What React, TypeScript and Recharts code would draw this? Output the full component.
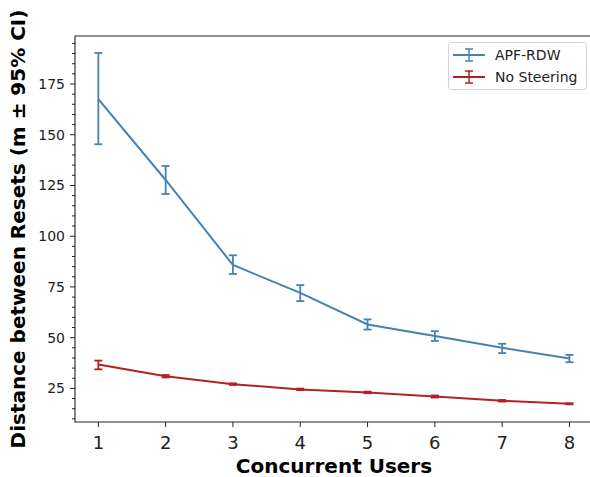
import React from 'react';
import { LineChart, Line, XAxis, YAxis, ErrorBar, ReferenceArea, Label } from 'recharts';

const users = [1, 2, 3, 4, 5, 6, 7, 8];
const apfMean = [167.5, 127.7, 85.8, 72.1, 56.5, 50.8, 45.0, 39.7];
const apfLow = [145.3, 120.8, 81.4, 68.0, 54.0, 48.4, 42.4, 37.9];
const apfHigh = [190.3, 134.6, 90.6, 75.9, 59.0, 53.2, 47.0, 41.5];
const noSteerMean = [36.8, 31.0, 27.1, 24.5, 23.0, 21.0, 18.9, 17.4];
const noSteerLow = [34.4, 30.4, 26.7, 24.1, 22.6, 20.5, 18.5, 17.1];
const noSteerHigh = [38.7, 31.6, 27.5, 24.9, 23.4, 21.5, 19.3, 17.7];

const yMajorTicks = [25, 50, 75, 100, 125, 150, 175];
const yAllTicks = [10, 15, 20, 25, 30, 35, 40, 45, 50, 55, 60, 65, 70, 75, 80, 85, 90, 95, 100, 105, 110, 115, 120, 125, 130, 135, 140, 145, 150, 155, 160, 165, 170, 175, 180, 185, 190, 195];

const series = [
  { name: 'APF-RDW', color: '#4682b4' },
  { name: 'No Steering', color: '#b22222' },
];

const data = users.map((u, i) => ({
  users: u,
  apf: apfMean[i],
  apfErr: [apfMean[i] - apfLow[i], apfHigh[i] - apfMean[i]],
  none: noSteerMean[i],
  noneErr: [noSteerMean[i] - noSteerLow[i], noSteerHigh[i] - noSteerMean[i]],
}));

const FONT = '"DejaVu Sans", sans-serif';
const INK = '#222';

const XTick = (props: any) => {
  const { x, y, payload } = props;
  return (
    <g>
      <line x1={x} x2={x} y1={y} y2={y + 5} stroke={INK} strokeWidth={1} />
      <text x={x} y={y + 27} textAnchor="middle" fontSize={18} fontFamily={FONT} fill={INK}>
        {payload.value}
      </text>
    </g>
  );
};

const YTick = (props: any) => {
  const { x, y, payload } = props;
  const major = yMajorTicks.includes(payload.value);
  return (
    <g>
      <line x1={x - (major ? 5 : 3)} x2={x} y1={y} y2={y} stroke={INK} strokeWidth={1} />
      {major && (
        <text x={x - 10} y={y + 5} textAnchor="end" fontSize={14} fontFamily={FONT} fill={INK}>
          {payload.value}
        </text>
      )}
    </g>
  );
};

const YTitle = (props: any) => {
  const { viewBox } = props;
  const cx = viewBox.x + 24.5;
  const cy = viewBox.y + viewBox.height / 2;
  return (
    <text
      transform={`translate(${cx},${cy}) rotate(-90)`}
      textAnchor="middle"
      fontSize={20}
      fontWeight="bold"
      fontFamily={FONT}
      fill="#000"
    >
      Distance between Resets (m ± 95% CI)
    </text>
  );
};

const XTitle = (props: any) => {
  const { viewBox } = props;
  const cx = viewBox.x + viewBox.width / 2;
  return (
    <text x={cx} y={473} textAnchor="middle" fontSize={20} fontWeight="bold" fontFamily={FONT} fill="#000">
      Concurrent Users
    </text>
  );
};

const LegendBox = () => (
  <svg width={140} height={50} style={{ display: 'block' }}>
    <rect x={0.5} y={0.5} width={138} height={47} rx={3} fill="#fff" stroke="#d3d3d3" strokeWidth={1} />
    {series.map((s, i) => {
      const cy = 13 + i * 22;
      return (
        <g key={s.name}>
          <line x1={5} x2={37} y1={cy} y2={cy} stroke={s.color} strokeWidth={2} />
          <line x1={21} x2={21} y1={cy - 6} y2={cy + 6} stroke={s.color} strokeWidth={1.5} />
          <line x1={17} x2={25} y1={cy - 6} y2={cy - 6} stroke={s.color} strokeWidth={1.5} />
          <line x1={17} x2={25} y1={cy + 6} y2={cy + 6} stroke={s.color} strokeWidth={1.5} />
          <text x={47} y={cy + 5} fontSize={14} fontFamily={FONT} fill={INK}>
            {s.name}
          </text>
        </g>
      );
    })}
  </svg>
);

export default function App() {
  return (
    <div style={{ position: 'absolute', left: 0, top: 0, width: 590, height: 477, overflow: 'hidden', background: '#fff' }}>
      <LineChart width={596} height={477} data={data} margin={{ top: 36, right: 3, left: 0, bottom: 0 }}>
        <XAxis
          dataKey="users"
          type="number"
          domain={[0.653, 8.35]}
          ticks={users}
          allowDataOverflow
          axisLine={false}
          tickLine={false}
          tickSize={0}
          tickMargin={0}
          height={55}
          tick={<XTick />}
        >
          <Label content={<XTitle />} />
        </XAxis>
        <YAxis
          type="number"
          domain={[8.44, 198.66]}
          ticks={yAllTicks}
          allowDataOverflow
          interval={0}
          axisLine={false}
          tickLine={false}
          tickSize={0}
          tickMargin={0}
          width={75}
          tick={<YTick />}
        >
          <Label content={<YTitle />} />
        </YAxis>
        <ReferenceArea x1={0.653} x2={8.35} y1={8.44} y2={198.66} fill="none" stroke={INK} strokeWidth={1.1} ifOverflow="visible" />
        <Line dataKey="apf" name="APF-RDW" stroke={series[0].color} strokeWidth={2} dot={false} isAnimationActive={false}>
          <ErrorBar dataKey="apfErr" width={4} strokeWidth={1.8} stroke={series[0].color} direction="y" />
        </Line>
        <Line dataKey="none" name="No Steering" stroke={series[1].color} strokeWidth={2} dot={false} isAnimationActive={false}>
          <ErrorBar dataKey="noneErr" width={4} strokeWidth={1.8} stroke={series[1].color} direction="y" />
        </Line>
      </LineChart>
      <div style={{ position: 'absolute', left: 448, top: 42 }}>
        <LegendBox />
      </div>
    </div>
  );
}
